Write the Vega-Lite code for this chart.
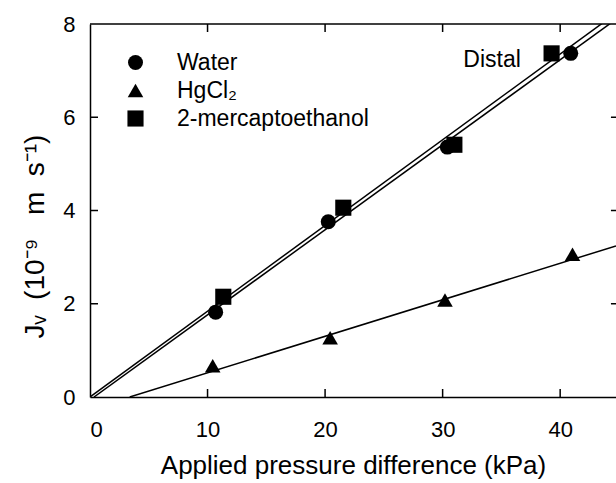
{
  "$schema": "https://vega.github.io/schema/vega-lite/v6.json",
  "width": 526,
  "height": 373,
  "autosize": {"type": "none"},
  "padding": {"left": 90, "top": 24, "right": 0, "bottom": 86},
  "background": "white",
  "config": {
    "font": "Liberation Sans",
    "view": {"stroke": null},
    "axis": {
      "domainColor": "black",
      "domainWidth": 1.5,
      "tickColor": "black",
      "grid": false,
      "labelFont": "Liberation Sans",
      "labelFontSize": 22,
      "labelColor": "black",
      "titleFont": "Liberation Sans",
      "titleFontSize": 26,
      "titleFontWeight": "normal",
      "titleColor": "black"
    }
  },
  "datasets": {
    "points": [
      {"treatment": "Water", "x": 10.69, "y": 1.82},
      {"treatment": "Water", "x": 20.27, "y": 3.76},
      {"treatment": "Water", "x": 30.4, "y": 5.36},
      {"treatment": "Water", "x": 40.9, "y": 7.37},
      {"treatment": "HgCl₂", "x": 10.44, "y": 0.67},
      {"treatment": "HgCl₂", "x": 20.43, "y": 1.27},
      {"treatment": "HgCl₂", "x": 30.2, "y": 2.08},
      {"treatment": "HgCl₂", "x": 41.05, "y": 3.06},
      {"treatment": "2-mercaptoethanol", "x": 11.34, "y": 2.15},
      {"treatment": "2-mercaptoethanol", "x": 21.55, "y": 4.06},
      {"treatment": "2-mercaptoethanol", "x": 31.0, "y": 5.41},
      {"treatment": "2-mercaptoethanol", "x": 39.27, "y": 7.37}
    ],
    "fits": [
      {"fit": "2-mercaptoethanol", "x": 0, "y": 0},
      {"fit": "2-mercaptoethanol", "x": 44.75, "y": 8.23},
      {"fit": "Water", "x": 0.34, "y": 0},
      {"fit": "Water", "x": 44.75, "y": 8.1},
      {"fit": "HgCl₂", "x": 3.38, "y": 0},
      {"fit": "HgCl₂", "x": 44.75, "y": 3.24}
    ],
    "frame": [{"x": 0, "y": 8}, {"x": 44.75, "y": 8}],
    "bticks": [{"x": 10, "y": 0}, {"x": 20, "y": 0}, {"x": 30, "y": 0}, {"x": 40, "y": 0}],
    "tticks": [{"x": 10, "y": 8}, {"x": 20, "y": 8}, {"x": 30, "y": 8}, {"x": 40, "y": 8}],
    "lticks": [{"x": 0, "y": 2}, {"x": 0, "y": 4}, {"x": 0, "y": 6}],
    "rticks": [{"x": 45, "y": 2}, {"x": 45, "y": 4}, {"x": 45, "y": 6}],
    "notes": [
      {"label": "Distal", "x": 31.76, "y": 7.07}
    ]
  },
  "encoding": {
    "x": {
      "field": "x", "type": "quantitative",
      "scale": {"domain": [0, 44.75], "nice": false, "zero": false},
      "axis": {"orient": "bottom", "values": [0, 10, 20, 30, 40], "ticks": false, "tickSize": 0, "labelPadding": 22, "title": "Applied pressure difference (kPa)", "titlePadding": 12}
    },
    "y": {
      "field": "y", "type": "quantitative",
      "scale": {"domain": [0, 8], "nice": false, "zero": false},
      "axis": {"orient": "left", "values": [0, 2, 4, 6, 8], "ticks": false, "tickSize": 0, "labelPadding": 15, "title": "Jᵥ\u00a0 (10⁻⁹\u00a0\u00a0 m\u00a0 s⁻¹)", "titleFontSize": 28, "titleX": -47, "titleY": 212, "titleBaseline": "alphabetic", "titleAngle": 270}
    }
  },
  "layer": [
    {
      "data": {"name": "fits"},
      "mark": {"type": "line", "color": "black", "strokeWidth": 1.5, "clip": true},
      "encoding": {
        "detail": {"field": "fit", "type": "nominal"}
      }
    },
    {
      "data": {"name": "frame"},
      "mark": {"type": "line", "color": "black", "strokeWidth": 1.5},
      "encoding": {}
    },
    {
      "data": {"name": "bticks"},
      "mark": {"type": "point", "shape": "M0,0L0,-2", "size": 64, "filled": false, "stroke": "black", "strokeWidth": 1.5, "opacity": 1},
      "encoding": {}
    },
    {
      "data": {"name": "tticks"},
      "mark": {"type": "point", "shape": "M0,0L0,2", "size": 64, "filled": false, "stroke": "black", "strokeWidth": 1.5, "opacity": 1},
      "encoding": {}
    },
    {
      "data": {"name": "lticks"},
      "mark": {"type": "point", "shape": "M0,0L2,0", "size": 64, "filled": false, "stroke": "black", "strokeWidth": 1.5, "opacity": 1},
      "encoding": {}
    },
    {
      "data": {"name": "rticks"},
      "mark": {"type": "point", "shape": "M0,0L-2,0", "size": 64, "filled": false, "stroke": "black", "strokeWidth": 1.5, "opacity": 1},
      "encoding": {}
    },
    {
      "data": {"name": "points"},
      "mark": {"type": "point", "filled": true, "color": "black", "opacity": 1},
      "encoding": {
        "shape": {
          "field": "treatment", "type": "nominal",
          "scale": {"domain": ["Water", "HgCl₂", "2-mercaptoethanol"], "range": ["circle", "triangle-up", "square"]},
          "legend": {
            "orient": "none", "legendX": 34, "legendY": 27, "title": null,
            "labelFont": "Liberation Sans", "labelFontSize": 23, "labelColor": "black", "labelLimit": 0,
            "symbolFillColor": "black", "symbolStrokeColor": "black", "symbolOpacity": 1,
            "labelOffset": 30, "rowPadding": 4, "padding": 0
          }
        },
        "size": {
          "field": "treatment", "type": "nominal",
          "scale": {"domain": ["Water", "HgCl₂", "2-mercaptoethanol"], "range": [225, 260, 170]},
          "legend": {
            "orient": "none", "legendX": 34, "legendY": 27, "title": null,
            "labelFont": "Liberation Sans", "labelFontSize": 23, "labelColor": "black", "labelLimit": 0,
            "symbolFillColor": "black", "symbolStrokeColor": "black", "symbolOpacity": 1,
            "labelOffset": 30, "rowPadding": 4, "padding": 0
          }
        }
      }
    },
    {
      "data": {"name": "notes"},
      "mark": {"type": "text", "align": "left", "baseline": "alphabetic", "fontSize": 23, "font": "Liberation Sans", "color": "black"},
      "encoding": {
        "text": {"field": "label"}
      }
    }
  ]
}
